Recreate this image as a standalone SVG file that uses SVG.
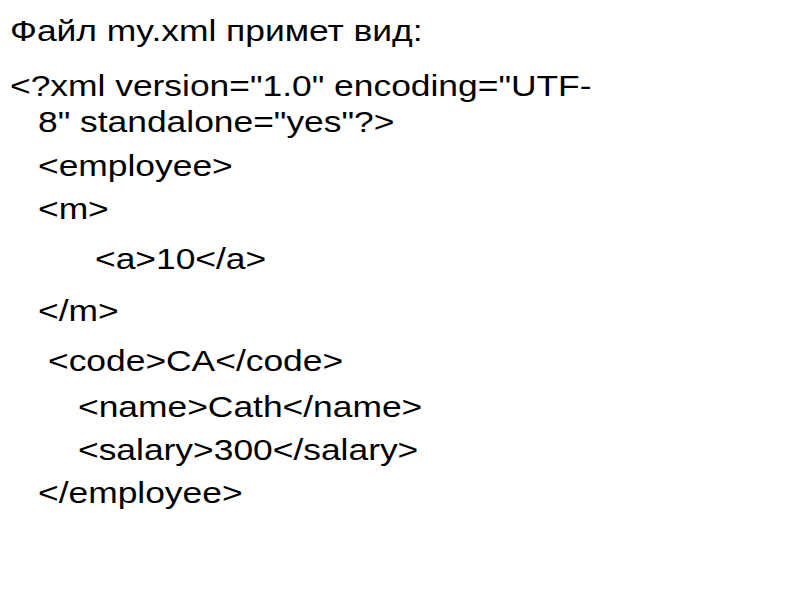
<svg xmlns="http://www.w3.org/2000/svg" width="800" height="600" viewBox="0 0 800 600">
<style>text{font-family:"Liberation Sans",Arial,sans-serif;font-size:30px;fill:#000}</style>
<rect width="800" height="600" fill="#fff"/>
<g transform="scale(1.18,1)">
<text x="8.5" y="41">Файл my.xml примет вид:</text>
<text x="8.5" y="96">&lt;?xml version="1.0" encoding="UTF-</text>
<text x="32.2" y="132">8" standalone="yes"?&gt;</text>
<text x="32.2" y="176">&lt;employee&gt;</text>
<text x="32.2" y="219">&lt;m&gt;</text>
<text x="80.5" y="269">&lt;a&gt;10&lt;/a&gt;</text>
<text x="32.2" y="321">&lt;/m&gt;</text>
<text x="40.7" y="371">&lt;code&gt;CA&lt;/code&gt;</text>
<text x="66.1" y="417">&lt;name&gt;Cath&lt;/name&gt;</text>
<text x="66.1" y="460">&lt;salary&gt;300&lt;/salary&gt;</text>
<text x="32.2" y="503">&lt;/employee&gt;</text>
</g>
</svg>
